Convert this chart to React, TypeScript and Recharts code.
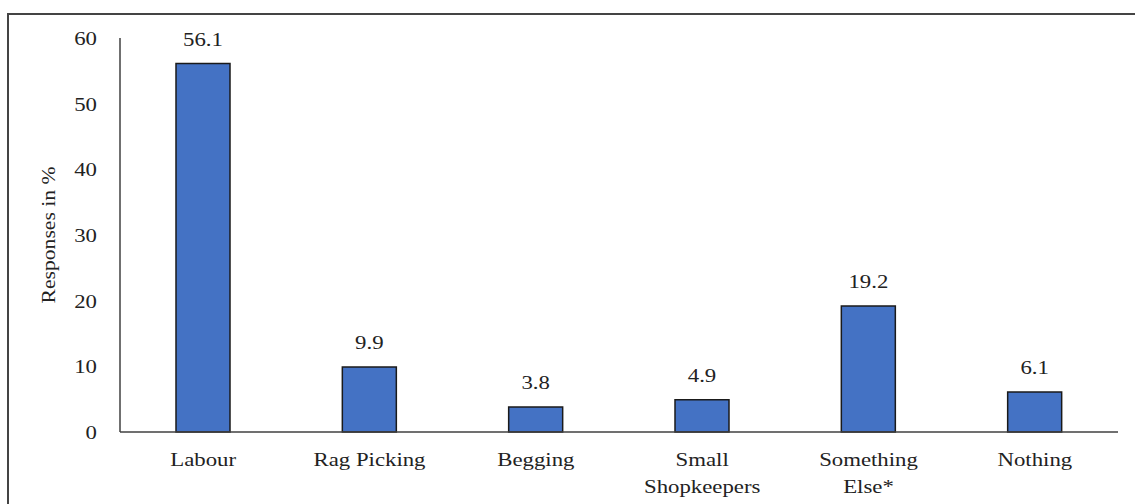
import { BarChart, Bar, XAxis, YAxis, LabelList } from 'recharts';

const categories = ['Labour', 'Rag Picking', 'Begging', 'Small\nShopkeepers', 'Something\nElse*', 'Nothing'];
const responses = [56.1, 9.9, 3.8, 4.9, 19.2, 6.1];
const yTicks = [0, 10, 20, 30, 40, 50, 60];

const data = categories.map((name, i) => ({ name, value: responses[i] }));

const FONT = '"Liberation Serif", "Times New Roman", serif';
// the source picture is stretched sideways a little, so the text is too
const STRETCH = 1.2;

const CategoryTick = (props: any) => {
    const { x, y, payload } = props;
    const lines = String(payload.value).split('\n');
    return (
        <g transform={`translate(${x},${y}) scale(${STRETCH},1)`}>
            <text x={0} y={0} textAnchor="middle" fontFamily={FONT} fontSize={19} fill="#222">
                {lines.map((line: string, i: number) => (
                    <tspan key={i} x={0} y={26 + i * 27}>{line}</tspan>
                ))}
            </text>
        </g>
    );
};

const ValueTick = (props: any) => {
    const { x, y, payload } = props;
    return (
        <g transform={`translate(${x},${y}) scale(${STRETCH},1)`}>
            <text x={0} y={7} textAnchor="end" fontFamily={FONT} fontSize={19} fill="#222">{payload.value}</text>
        </g>
    );
};

const BarValue = (props: any) => {
    const { x, y, width, value } = props;
    return (
        <g transform={`translate(${x + width / 2},${y - 18}) scale(${STRETCH},1)`}>
            <text x={0} y={0} textAnchor="middle" fontFamily={FONT} fontSize={19} fill="#222">{value}</text>
        </g>
    );
};

const AxisTitle = (props: any) => {
    const { viewBox } = props;
    const cy = viewBox.y + viewBox.height / 2;
    return (
        <g transform={`translate(${viewBox.x + 49},${cy}) rotate(-90) scale(${STRETCH},1)`}>
            <text x={0} y={0} dy="0.35em" textAnchor="middle" fontFamily={FONT} fontSize={18} fill="#222">Responses in %</text>
        </g>
    );
};

const App = () => {
    return (
        <div style={{ position: 'fixed', left: 0, top: 0, width: 1135, height: 504, background: '#fff', overflow: 'hidden' }}>
            <div style={{ position: 'absolute', left: 7, top: 13, width: 1140, height: 500, border: '2px solid #444', boxSizing: 'border-box' }} />
            <div style={{ position: 'absolute', left: 0, top: 0 }}>
                <BarChart width={1135} height={504} data={data} margin={{ top: 38, right: 17, bottom: 12, left: 0 }}>
                    <XAxis
                        dataKey="name"
                        height={60}
                        tickLine={false}
                        axisLine={{ stroke: '#404040', strokeWidth: 1.5 }}
                        tick={<CategoryTick />}
                        interval={0}
                    />
                    <YAxis
                        width={120}
                        domain={[0, 60]}
                        ticks={yTicks}
                        tickLine={false}
                        tickSize={0}
                        tickMargin={23}
                        axisLine={{ stroke: '#404040', strokeWidth: 1.5 }}
                        tick={<ValueTick />}
                        label={{ content: <AxisTitle /> }}
                    />
                    <Bar dataKey="value" barSize={54} fill="#4472C4" stroke="#1a1a1a" strokeWidth={1.5} isAnimationActive={false}>
                        <LabelList dataKey="value" content={<BarValue />} />
                    </Bar>
                </BarChart>
            </div>
        </div>
    );
};

export default App;
